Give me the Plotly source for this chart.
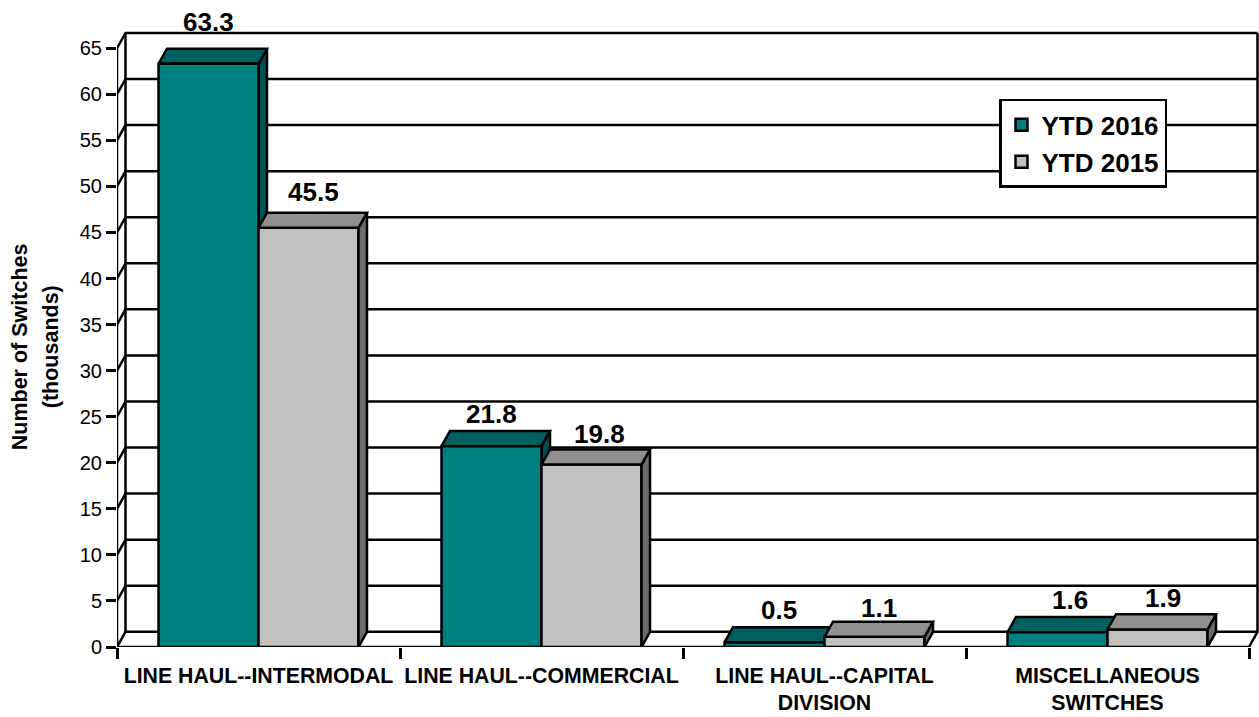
import plotly.graph_objects as go

categories = ["LINE HAUL--INTERMODAL", "LINE HAUL--COMMERCIAL", "LINE HAUL--CAPITAL<br>DIVISION", "MISCELLANEOUS<br>SWITCHES"]
ytd_2016 = [63.3, 21.8, 0.5, 1.6]
ytd_2015 = [45.5, 19.8, 1.1, 1.9]
y_ticks = list(range(0, 70, 5))

# label placement relative to each bar's front-top centre (pixels)
label_shift_2016 = [(0, 42), (0, 32), (4, 32), (12, 32)]
label_shift_2015 = [(5, 36), (8, 31), (4, 29), (5, 32)]

FONT = "Liberation Sans, Arial, sans-serif"
LW = 2.5
DX = 8.5 / 283          # oblique depth, category units
DY = 15.2 / 9.22        # oblique depth, value units
W = 100 / 283           # bar width, category units
N = len(categories)
centers = [i + 0.5 for i in range(N)]


def faces(values, lefts):
    top_x, top_y, side_x, side_y = [], [], [], []
    for v, l in zip(values, lefts):
        r = l + W
        top_x += [l, r, r + DX, l + DX, l, None]
        top_y += [v, v, v + DY, v + DY, v, None]
        side_x += [r, r + DX, r + DX, r, r, None]
        side_y += [0, DY, v + DY, v, 0, None]
    return top_x, top_y, side_x, side_y


def poly(x, y, color, axes=("x", "y")):
    return go.Scatter(x=x, y=y, mode="lines", fill="toself", fillcolor=color,
                      line=dict(color="black", width=LW), hoverinfo="skip",
                      showlegend=False, xaxis=axes[0], yaxis=axes[1], cliponaxis=False)


# walls and gridlines
gx, gy = [], []
for v in y_ticks:
    gx += [0, DX, N + DX, None]
    gy += [v, v + DY, v + DY, None]
gx += [DX, DX, None, N + DX, N + DX, N, N, 0, 0]
gy += [DY, 65 + DY, None, 65 + DY, DY, 0, 0, 0, 65]

fig = go.Figure()
fig.add_trace(go.Scatter(x=gx, y=gy, mode="lines", line=dict(color="black", width=LW),
                         hoverinfo="skip", showlegend=False, cliponaxis=False))

l16 = [c - W for c in centers]
l15 = list(centers)
t16x, t16y, s16x, s16y = faces(ytd_2016, l16)
t15x, t15y, s15x, s15y = faces(ytd_2015, l15)

fig.add_trace(poly(s16x, s16y, "#004F50"))
fig.add_trace(poly(t16x, t16y, "#006060"))

fig.add_trace(go.Bar(x=centers, y=ytd_2016, width=W, offset=-W, name="YTD 2016",
                     marker=dict(color="#008080", line=dict(color="black", width=LW)),
                     xaxis="x2", yaxis="y2", cliponaxis=False))
fig.add_trace(go.Bar(x=centers, y=ytd_2015, width=W, offset=0, name="YTD 2015",
                     marker=dict(color="#C0C0C0", line=dict(color="black", width=LW)),
                     xaxis="x2", yaxis="y2", cliponaxis=False))
fig.add_trace(poly(s15x, s15y, "#6B6B6B", ("x2", "y2")))
fig.add_trace(poly(t15x, t15y, "#909090", ("x2", "y2")))

annotations = []
for vals, lefts, shifts in ((ytd_2016, l16, label_shift_2016), (ytd_2015, l15, label_shift_2015)):
    for v, l, (sx, sy) in zip(vals, lefts, shifts):
        annotations.append(dict(x=l + W / 2, y=v, xref="x", yref="y", text=f"{v:.1f}", showarrow=False,
                                xshift=sx, yshift=sy, xanchor="center", yanchor="middle",
                                font=dict(family=FONT, size=26, color="black", weight="bold")))
for text, px in (("Number of Switches", 20), ("(thousands)", 51)):
    annotations.append(dict(x=(px - 117) / 1142, y=(647.5 - 347.5) / 617.5, xref="paper", yref="paper",
                            text=text, showarrow=False, textangle=-90, xanchor="center", yanchor="middle",
                            font=dict(family=FONT, size=21.5, color="black", weight="bold")))

x_range = [0, 1142 / 283]
y_range = [0, 617.5 / 9.22]
fig.update_layout(
    width=1259, height=717, autosize=False,
    margin=dict(l=117, r=0, t=30, b=69.5),
    paper_bgcolor="white", plot_bgcolor="white",
    barmode="overlay",
    font=dict(family=FONT, color="black"),
    annotations=annotations,
    legend=dict(x=(999 - 117) / 1142, y=(647.5 - 99) / 617.5, xanchor="left", yanchor="top",
                bgcolor="white", bordercolor="black", borderwidth=2.5, itemwidth=30,
                font=dict(family=FONT, size=26, color="black", weight="bold"),
                traceorder="normal"),
    xaxis=dict(range=x_range, tickmode="array", tickvals=list(range(N + 1)), ticktext=[""] * (N + 1),
               ticks="outside", ticklen=11, tickwidth=2.5, tickcolor="black", automargin=False,
               showgrid=False, zeroline=False, showline=False),
    yaxis=dict(range=y_range, tickmode="array", tickvals=y_ticks, ticks="outside", ticklen=10,
               tickwidth=2.5, tickcolor="black", showgrid=False, zeroline=False, showline=False,
               automargin=False, tickfont=dict(family=FONT, size=20, color="black")),
    xaxis2=dict(range=x_range, overlaying="x", anchor="y2", side="bottom", tickmode="array",
                tickvals=centers, ticktext=categories, ticks="outside", ticklen=9, automargin=False,
                tickcolor="rgba(0,0,0,0)", showgrid=False, zeroline=False, showline=False,
                tickangle=0, tickfont=dict(family=FONT, size=21.3, color="black", weight="bold")),
    yaxis2=dict(range=y_range, overlaying="y", anchor="x2", showticklabels=False, ticks="",
                automargin=False, showgrid=False, zeroline=False, showline=False),
)

fig.write_html("out.html", config={"displayModeBar": False},
               post_script="document.body.style.margin='0';document.documentElement.style.overflow='hidden';")
